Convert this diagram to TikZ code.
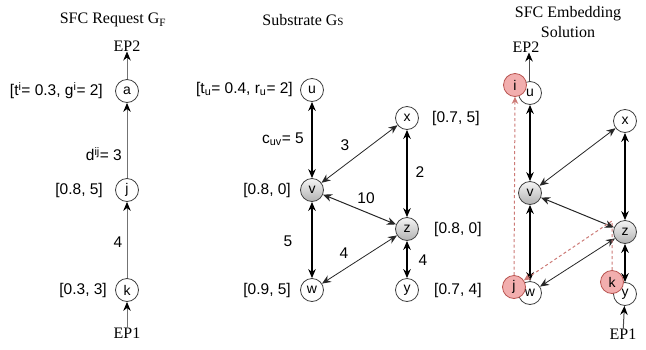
\documentclass[tikz,border=0pt]{standalone}
\usepackage{fontspec}
\setmainfont{Liberation Serif}
\setsansfont{Liberation Sans}
\usetikzlibrary{arrows.meta,calc}
\definecolor{redfill}{HTML}{F2AEAE}
\definecolor{redline}{HTML}{B85450}
\definecolor{reddash}{HTML}{CC7A76}
\begin{document}
\begin{tikzpicture}[x=1pt,y=-1pt,
 vnode/.style={circle,draw=black!75,line width=0.8pt,minimum size=23pt,inner sep=0pt,fill=white,font=\sffamily\fontsize{14}{14}\selectfont},
 gnode/.style={vnode,top color=gray!8,bottom color=gray!60},
 rnode/.style={vnode,draw=redline,fill=redfill},
 lbl/.style={font=\sffamily\fontsize{15.5}{17}\selectfont,inner sep=0pt},
 ttl/.style={font=\fontsize{16}{18}\selectfont,inner sep=0pt},
 reqarr/.style={draw=black!55,line width=1pt,-{Stealth[length=9pt,width=7.5pt,color=black]}},
 thk/.style={draw=black,line width=1.3pt,{Stealth[length=9pt,width=7.5pt]}-{Stealth[length=9pt,width=7.5pt]}},
 thn/.style={draw=black!85,line width=0.8pt,{Stealth[length=9pt,width=7.5pt]}-{Stealth[length=9pt,width=7.5pt]}},
 single/.style={draw=black!70,line width=1pt,-{Stealth[length=9pt,width=7.5pt,color=black]}},
 rdash/.style={draw=reddash,line width=1pt,dash pattern=on 3pt off 2.5pt}
]
\useasboundingbox (0,0) rectangle (646,349);

% ---------- left panel ----------
\node[ttl] (t1) at (113,20) {SFC Request G\textsubscript{F}};
\node[ttl] (ep2a) at (127,46) {EP2};
\node[vnode] (a) at (127,91) {a};
\node[vnode] (j) at (127,190) {j};
\node[vnode] (k) at (127,290) {k};
\node[ttl] (ep1a) at (127,333) {EP1};
\draw[reqarr] (a) -- (ep2a);
\draw[reqarr] (j) -- (a);
\draw[reqarr] (k) -- (j);
\draw[reqarr] (ep1a) -- (k);
\node[lbl,anchor=east] (la) at (103,91) {[t\textsuperscript{i}= 0.3, g\textsuperscript{i}= 2]};
\node[lbl,anchor=east] (lja) at (122,154) {d\textsuperscript{ij}= 3};
\node[lbl,anchor=east] (lj) at (103,190) {[0.8, 5]};
\node[lbl] (lkj) at (118,242) {4};
\node[lbl,anchor=east] (lk) at (107,290) {[0.3, 3]};

% ---------- middle panel ----------
\node[ttl] (t2) at (303,20) {Substrate G{\fontsize{11}{11}\selectfont S}};
\node[vnode] (u) at (312,90) {u};
\node[vnode] (x) at (407,118) {x};
\node[gnode] (v) at (312,190) {v};
\node[gnode] (z) at (407,229) {z};
\node[vnode] (w) at (312,290) {w};
\node[vnode] (y) at (407,290) {y};
\draw[thk] (u) -- (v);
\draw[thn] (v) -- (x);
\draw[thk] (x) -- (z);
\draw[thn,line width=1pt] (v) -- (z);
\draw[thk] (v) -- (w);
\draw[thn] (w) -- (z);
\draw[thk,line width=1.6pt] (z) -- (y);
\node[lbl,anchor=east] (lu) at (293,89) {[t\textsubscript{u}= 0.4, r\textsubscript{u}= 2]};
\node[lbl,anchor=east] (luv) at (304,139) {c\textsubscript{uv}= 5};
\node[lbl] (lvx) at (345,145) {3};
\node[lbl] (lxz) at (420,172) {2};
\node[lbl] (lvz) at (366,198) {10};
\node[lbl] (lvw) at (288,241) {5};
\node[lbl] (lwz) at (344,253) {4};
\node[lbl] (lzy) at (423,260) {4};
\node[lbl,anchor=east] (lv) at (291,190) {[0.8, 0]};
\node[lbl,anchor=east] (lw) at (291,290) {[0.9, 5]};
\node[lbl,anchor=west] (lx) at (432,118) {[0.7, 5]};
\node[lbl,anchor=west] (lz) at (434,229) {[0.8, 0]};
\node[lbl,anchor=west] (ly) at (434,290) {[0.7, 4]};

% ---------- right panel ----------
\node[ttl] (t3a) at (568,14) {SFC Embedding};
\node[ttl] (t3b) at (568,32) {Solution};
\node[ttl] (ep2b) at (526,47) {EP2};
\node[vnode] (u2) at (530,93) {u};
\node[vnode] (x2) at (625,121) {x};
\node[gnode] (v2) at (530,193) {v};
\node[gnode] (z2) at (625,232) {z};
\node[vnode] (w2) at (530,293) {w};
\node[vnode] (y2) at (625,294) {y};
\node[ttl] (ep1b) at (623,334) {EP1};
\draw[single] (u2.north) ++(-1,0) coordinate (u2t) (u2t) -- (u2t |- ep2b.south);
\draw[single] (ep1b) -- (y2);
\draw[thk] (u2) -- (v2);
\draw[thn] (v2) -- (x2);
\draw[thk] (x2) -- (z2);
\draw[thn,line width=1pt] (v2) -- (z2);
\draw[thk] (v2) -- (w2);
\draw[thn] (w2) -- (z2);
\draw[thk,line width=1.6pt] (z2) -- (y2);
\node[rnode] (i) at (515,85) {i};
\node[rnode] (j2) at (514,287) {j};
\node[rnode] (k2) at (612,282) {k};
\coordinate (bend) at (612,221);
\draw[rdash,-{Stealth[length=7pt,width=6.5pt]}] (j2.north) -- (i.south);
\draw[rdash,-{Stealth[length=7pt,width=6.5pt]}] (k2.north) -- (bend) -- (j2);
\end{tikzpicture}
\end{document}
